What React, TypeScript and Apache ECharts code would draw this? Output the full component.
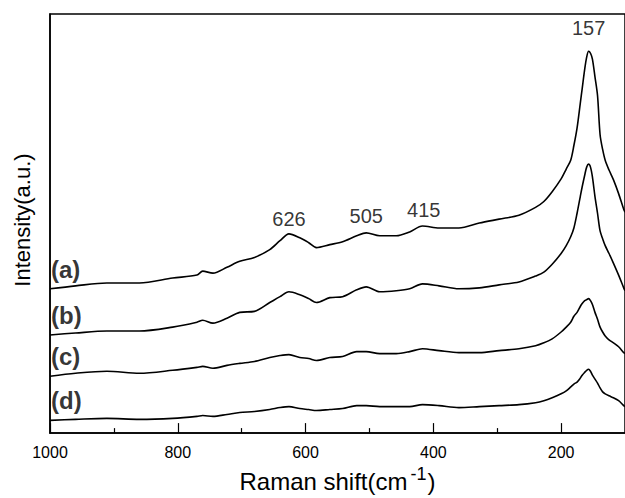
import React, { useEffect, useRef } from "react";
import * as echarts from "echarts";

// Raman shift (cm^-1), shared by all four spectra
const ramanShift = [1000, 960, 911, 860, 808, 770, 761, 745, 723, 703, 680, 656, 640, 626, 609, 595, 583, 562, 542, 520, 505, 484, 458, 437, 417, 391, 360, 328, 297, 266, 240, 227, 214, 200, 192, 185, 180, 175, 170, 167, 163, 160, 157, 154, 151, 147, 143, 139, 135, 131, 125, 118, 110, 102, 100];

// Intensities (a.u., curves offset vertically)
const spectrumA = [147, 150, 153, 153, 158, 161, 165, 163, 169, 175, 179, 187, 196, 203, 199, 194, 189, 192, 195, 201, 204, 201, 201, 205, 211, 209, 209, 214, 218, 222, 230, 236, 246, 259, 269, 278, 293, 311, 336, 351, 371, 383, 389, 387, 381, 363, 344, 304, 289, 278, 268, 258, 244, 228, 225];
const spectrumB = [100, 102, 104, 104, 108, 113, 115, 112, 117, 123, 124, 133, 139, 144, 141, 137, 133, 138, 139, 146, 149, 144, 145, 147, 152, 150, 147, 148, 151, 154, 160, 164, 172, 183, 191, 200, 209, 224, 241, 251, 263, 271, 274, 271, 261, 241, 224, 206, 198, 191, 183, 173, 161, 148, 145];
const spectrumC = [58, 61, 63, 61, 64, 67, 68, 66, 69, 71, 73, 77, 79, 80, 77, 76, 74, 77, 78, 83, 83, 81, 81, 83, 86, 84, 82, 82, 84, 86, 89, 92, 96, 103, 108, 113, 119, 123, 129, 132, 135, 136, 137, 135, 131, 123, 116, 108, 103, 99, 95, 92, 88, 82, 81];
const spectrumD = [13, 14, 15, 14, 15, 17, 18, 17, 19, 21, 22, 24, 26, 27, 25, 24, 23, 24, 25, 28, 28, 27, 27, 27, 29, 28, 26, 27, 28, 29, 31, 33, 36, 40, 43, 47, 50, 52, 56, 59, 62, 64, 65, 63, 59, 55, 51, 46, 42, 40, 38, 36, 33, 28, 27];

const sampleLabels = ["(a)", "(b)", "(c)", "(d)"];
const peakPositions = [626, 505, 415, 157];
const peakLabelHeights = [218, 221, 227, 413];

const majorTicks = [1000, 800, 600, 400, 200];
const minorTicks = [900, 700, 500, 300];

const FONT = "'Liberation Sans', Arial, sans-serif";

export default function App() {
  const ref = useRef<HTMLDivElement>(null);

  useEffect(() => {
    if (!ref.current) return;
    const chart = echarts.init(ref.current, undefined, { renderer: "svg" });

    const toPairs = (ys: number[]) => ramanShift.map((x, i) => [x, ys[i]]);
    const all = [spectrumA, spectrumB, spectrumC, spectrumD];

    const series: any[] = all.map((ys, i) => ({
      type: "line",
      name: sampleLabels[i],
      data: toPairs(ys),
      showSymbol: false,
      smooth: 0.3,
      lineStyle: { color: "#000", width: 1.6 },
      silent: true,
      clip: true,
    }));

    // peak labels
    series.push({
      type: "scatter",
      data: peakPositions.map((p, i) => [p, peakLabelHeights[i]]),
      symbolSize: 0,
      silent: true,
      label: {
        show: true,
        position: "inside",
        formatter: (p: any) => String(p.value[0]),
        color: "#000",
        textBorderWidth: 0,
        fontFamily: FONT,
        fontSize: 20,
      },
    });

    // sample labels placed at the left end of each curve
    series.push({
      type: "scatter",
      data: all.map((ys) => [1000, ys[0] + 20]),
      symbolSize: 0,
      silent: true,
      label: {
        show: true,
        position: "right",
        distance: 1,
        formatter: (p: any) => sampleLabels[p.dataIndex],
        color: "#000",
        textBorderWidth: 0,
        fontFamily: FONT,
        fontSize: 24,
        fontWeight: "bold",
      },
    });

    chart.setOption({
      animation: false,
      backgroundColor: "#fff",
      grid: { left: 50, top: 14, width: 576, height: 427, show: true, borderColor: "#000", borderWidth: 1.5 },
      xAxis: [
        {
          type: "value",
          inverse: true,
          min: 100,
          max: 1000,
          splitLine: { show: false },
          axisLine: { show: true, lineStyle: { color: "#000", width: 1.5 } },
          axisTick: { show: true, inside: true, length: 10, customValues: majorTicks, lineStyle: { color: "#000", width: 1.2 } },
          axisLabel: {
            show: true,
            customValues: majorTicks,
            formatter: (v: number) => String(v),
            color: "#000",
            fontFamily: FONT,
            fontSize: 16,
            margin: 11,
          },
          name: "Raman shift(cm{sup|-1})",
          nameLocation: "middle",
          nameGap: 29,
          nameTextStyle: {
            color: "#000",
            fontFamily: FONT,
            fontSize: 24,
            rich: {
              sup: { fontFamily: FONT, fontSize: 18, color: "#000", verticalAlign: "top", padding: [0, 1, 14, 3] },
            },
          },
        },
        {
          type: "value",
          inverse: true,
          min: 100,
          max: 1000,
          position: "bottom",
          splitLine: { show: false },
          axisLine: { show: false },
          axisTick: { show: true, inside: true, length: 5, customValues: minorTicks, lineStyle: { color: "#000", width: 1.2 } },
          axisLabel: { show: false },
        },
      ],
      yAxis: {
        type: "value",
        min: 0,
        max: 427,
        splitLine: { show: false },
        axisLine: { show: true, lineStyle: { color: "#000", width: 1.5 } },
        axisTick: { show: false },
        axisLabel: { show: false },
      },
      graphic: [
        {
          type: "text",
          x: 22,
          y: 220,
          rotation: Math.PI / 2,
          style: {
            text: "Intensity(a.u.)",
            fill: "#000",
            font: `22px ${FONT}`,
            textAlign: "center",
            textVerticalAlign: "middle",
          },
        },
      ],
      series,
    });

    return () => chart.dispose();
  }, []);

  return (
    <div
      ref={ref}
      style={{ position: "fixed", left: 0, top: 0, width: 625, height: 498, overflow: "hidden", background: "#fff" }}
    />
  );
}
